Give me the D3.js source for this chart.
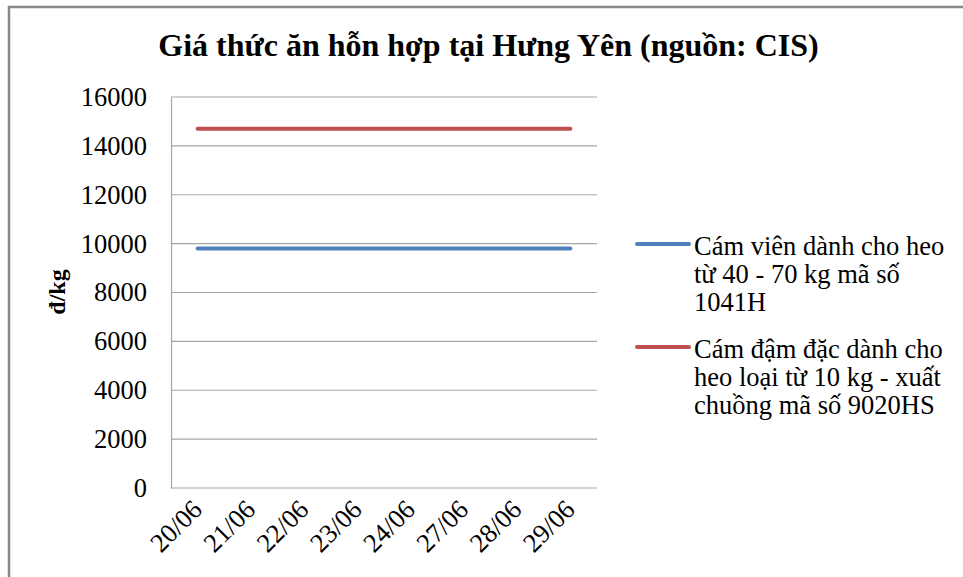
<!DOCTYPE html>
<html><head><meta charset="utf-8">
<script src="https://cdn.jsdelivr.net/npm/d3@7"></script>
</head>
<body style="margin:0;background:#fff">
<svg id="c" width="963" height="577" font-family="Liberation Serif, Times New Roman, Times, serif"></svg>
<script>
const categories = ["20/06","21/06","22/06","23/06","24/06","27/06","28/06","29/06"];
const seriesNames = [
  ["Cám viên dành cho heo","từ 40 - 70 kg mã số","1041H"],
  ["Cám đậm đặc dành cho","heo loại từ 10 kg - xuất","chuồng mã số 9020HS"]
];
const series1 = [9800,9800,9800,9800,9800,9800,9800,9800];
const series2 = [14700,14700,14700,14700,14700,14700,14700,14700];
const yTicks = [0,2000,4000,6000,8000,10000,12000,14000,16000];
const colors = ["#4F81BD","#C0504D"];
const title = "Giá thức ăn hỗn hợp tại Hưng Yên (nguồn: CIS)";
const yLabel = "đ/kg";
const FF = '"Liberation Serif", "Times New Roman", Times, serif';
const FS = 26.5;

const svg = d3.select("#c");
// outer border (only top & left visible)
svg.append("path").attr("d","M9,577 V7 H963").attr("fill","none").attr("stroke","#888").attr("stroke-width",2.5);

const L=171, R=597, T=97, B=488;
const x = d3.scaleBand().domain(categories).range([L,R]);
const y = d3.scaleLinear().domain([0,16000]).range([B,T]);

// gridlines
svg.append("g").selectAll("line").data(yTicks).join("line")
  .attr("x1",L).attr("x2",R).attr("y1",d=>y(d)).attr("y2",d=>y(d))
  .attr("stroke","#a6a6a6").attr("stroke-width",1.2);

// y axis
const ya = svg.append("g").attr("transform",`translate(${L},0)`)
  .call(d3.axisLeft(y).tickValues(yTicks).tickSize(0).tickPadding(24).tickFormat(d3.format("d")));
ya.attr("font-family",null).attr("font-size",null);
ya.select(".domain").attr("stroke","#a6a6a6").attr("stroke-width",1.2);
ya.selectAll("text").attr("font-family",FF).attr("font-size",FS).attr("fill","#000");

// x axis
const xa = svg.append("g").attr("transform",`translate(0,${B})`)
  .call(d3.axisBottom(x).tickSize(0).tickPadding(0));
xa.attr("font-family",null).attr("font-size",null);
xa.select(".domain").remove();
xa.selectAll("text").attr("font-family",FF).attr("font-size",FS).attr("fill","#000")
  .attr("text-anchor","end").attr("dy",0)
  .attr("transform","translate(6,23) rotate(-45)");

// lines
const line = d3.line().x((d,i)=>x(categories[i])+x.bandwidth()/2).y(d=>y(d));
[series1,series2].forEach((s,i)=>{
  svg.append("path").datum(s).attr("d",line).attr("fill","none")
    .attr("stroke",colors[i]).attr("stroke-width",4).attr("stroke-linecap","round");
});

// title
svg.append("text").attr("x",488.5).attr("y",56).attr("text-anchor","middle")
  .attr("font-family",FF).attr("font-size",32).attr("font-weight","bold").text(title);

// y label
svg.append("text").attr("transform","translate(65,292) rotate(-90)").attr("text-anchor","middle")
  .attr("font-family",FF).attr("font-size",24).attr("font-weight","bold").text(yLabel);

// legend
const legY = [244,347];
seriesNames.forEach((lines,i)=>{
  const g = svg.append("g");
  g.append("line").attr("x1",637).attr("x2",689).attr("y1",legY[i]).attr("y2",legY[i])
    .attr("stroke",colors[i]).attr("stroke-width",4).attr("stroke-linecap","round");
  lines.forEach((t,j)=>{
    g.append("text").attr("x",694).attr("y",legY[i]+11+j*28)
      .attr("font-family",FF).attr("font-size",FS).text(t);
  });
});
</script>
</body></html>
